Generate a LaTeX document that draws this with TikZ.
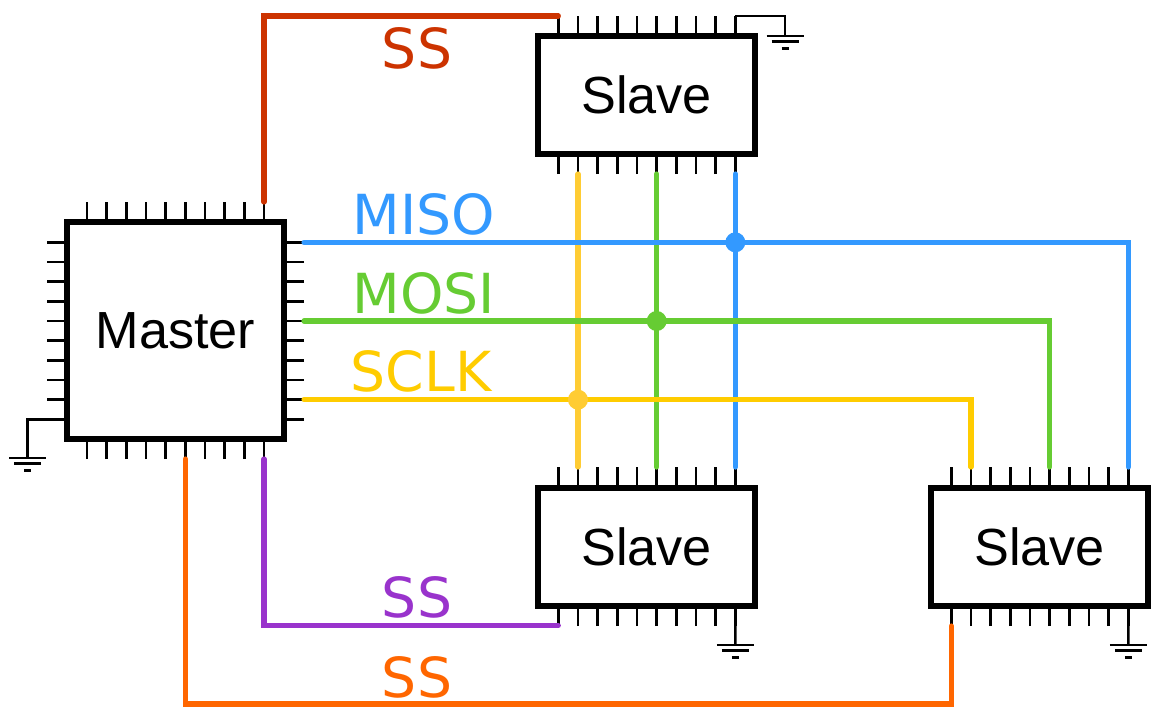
\documentclass[tikz,border=0pt]{standalone}
\usepackage{fontspec}
\setmainfont{Liberation Sans}
\newfontfamily\wirefont{DejaVu Sans}
\usetikzlibrary{calc}
\definecolor{ssred}{HTML}{CC3300}
\definecolor{sspurple}{HTML}{9933CC}
\definecolor{ssorange}{HTML}{FF6600}
\definecolor{misoblue}{HTML}{3399FF}
\definecolor{mosigreen}{HTML}{66CC33}
\definecolor{sclkyellow}{HTML}{FFCC00}
\definecolor{sclklight}{HTML}{FFCC33}
\tikzset{
    chip/.style={draw=black, fill=white, line width=0.06cm, inner sep=0pt, font=\fontsize{14.85pt}{17pt}\selectfont},
    pin/.style={black, line width=0.024cm},
    wire/.style={line width=0.052cm, line cap=round, line join=miter},
    wirelabel/.style={font=\wirefont\fontsize{15.7pt}{18pt}\selectfont, inner sep=0pt},
    joint/.style={circle, inner sep=0pt, minimum size=0.2cm}
}
\newcommand{\groundmark}[1]{
        \draw[pin] ($(#1)+(-18.5,0)$) -- ($(#1)+(18.5,0)$);
        \draw[pin] ($(#1)+(-13.5,5.5)$) -- ($(#1)+(13.5,5.5)$);
        \draw[pin, line width=0.03cm] ($(#1)+(-3.5,12)$) -- ($(#1)+(3.5,12)$);
}
\begin{document}
\begin{tikzpicture}[x=0.01cm, y=-0.01cm]
        \useasboundingbox (0,0) rectangle (1161,720);

        \node[chip, minimum width=2.16cm, minimum height=2.16cm] (master) at (175.5,330.5) {Master};
        \node[chip, minimum width=2.16cm, minimum height=1.18cm] (S) at (646.5,95) {Slave};
        \node[chip, minimum width=2.16cm, minimum height=1.18cm] (B) at (646.5,547) {Slave};
        \node[chip, minimum width=2.16cm, minimum height=1.18cm] (R) at (1039.5,547) {Slave};

        \foreach \i in {1,...,10} {
            \pgfmathsetmacro\px{87+(\i-1)*19.67}
            \pgfmathsetmacro\py{242.3+(\i-1)*19.67}
            \coordinate (Mt\i) at (\px,202);
            \coordinate (Mb\i) at (\px,459);
            \coordinate (Ml\i) at (47,\py);
            \coordinate (Mr\i) at (304,\py);
            \draw[pin] (Mt\i) -- (Mt\i |- master.north);
            \draw[pin] (Mb\i) -- (Mb\i |- master.south);
            \draw[pin] (Ml\i) -- (Ml\i -| master.west);
            \draw[pin] (Mr\i) -- (Mr\i -| master.east);
        }

        \foreach \c/\cx/\ty/\by in {S/558.3/16/174, B/558.3/467/626, R/951.3/467/626} {
            \foreach \i in {1,...,10} {
                \pgfmathsetmacro\px{\cx+(\i-1)*19.67}
                \coordinate (\c t\i) at (\px,\ty);
                \coordinate (\c b\i) at (\px,\by);
                \draw[pin] (\c t\i) -- (\c t\i |- \c.north);
                \draw[pin] (\c b\i) -- (\c b\i |- \c.south);
            }
        }

        \coordinate (gndM) at (27.7,458);
        \coordinate (gndS) at (785,36);
        \coordinate (gndB) at (735.3,645);
        \coordinate (gndR) at (1128.3,645);
        \draw[pin] (Ml10) -| (gndM);
        \draw[pin] (St10) -| (gndS);
        \draw[pin] (Bb10) -- (gndB);
        \draw[pin] (Rb10) -- (gndR);
        \groundmark{gndM}
        \groundmark{gndS}
        \groundmark{gndB}
        \groundmark{gndR}

        \coordinate (lowrun) at (500,704);
        \coordinate (midrun) at (400,625.5);
        \draw[wire, ssred] (Mt10) |- (St1);
        \draw[wire, sspurple] (Mb10) |- (midrun) -- (midrun -| Bb1);
        \draw[wire, ssorange] (Mb6) |- (lowrun) -| (Rb1);

        \draw[wire, sclklight] (Sb2) -- (Bt2);
        \draw[wire, mosigreen] (Sb6) -- (Bt6);
        \draw[wire, misoblue] (Sb10) -- (Bt10);

        \draw[wire, misoblue] (Mr1) -| (Rt10);
        \draw[wire, mosigreen] (Mr5) -| (Rt6);
        \draw[wire, sclkyellow] (Mr9) -| (Rt2);

        \node[joint, fill=misoblue] (misodot) at (Sb10 |- Mr1) {};
        \node[joint, fill=mosigreen] (mosidot) at (Sb6 |- Mr5) {};
        \node[joint, fill=sclklight] (sclkdot) at (Sb2 |- Mr9) {};

        \node[wirelabel, ssred] (sstop) at (417,48) {SS};
        \node[wirelabel, misoblue] (misolabel) at (424,214) {MISO};
        \node[wirelabel, mosigreen] (mosilabel) at (424,293) {MOSI};
        \node[wirelabel, sclkyellow] (sclklabel) at (421,371) {SCLK};
        \node[wirelabel, sspurple] (ssmid) at (417,597) {SS};
        \node[wirelabel, ssorange] (sslow) at (417,677) {SS};

    \end{tikzpicture}
\end{document}
